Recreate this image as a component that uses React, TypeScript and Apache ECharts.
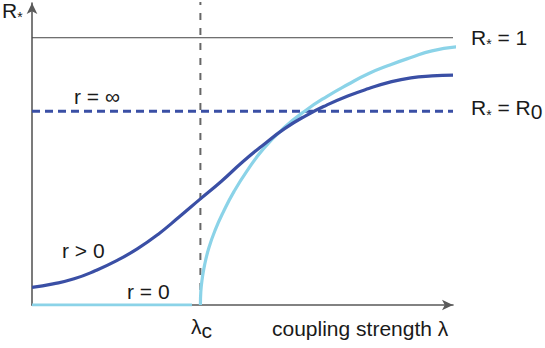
import React, { useEffect, useRef } from "react";
import * as echarts from "echarts";

const lambdaC = 4;
const rStarOne = 1;
const rZero = 0.725;
const xMax = 10;
const yMax = 1.13;

// r > 0 (dark blue)
const rPositive: [number, number][] = [
  [0, 0.066], [0.5, 0.079], [1, 0.098], [1.5, 0.128], [2, 0.165], [2.5, 0.21],
  [3, 0.265], [3.5, 0.33], [4, 0.397], [4.5, 0.463], [5, 0.535], [5.5, 0.6],
  [6, 0.66], [6.5, 0.708], [7, 0.748], [7.5, 0.782], [8, 0.81], [8.5, 0.834],
  [9, 0.85], [9.5, 0.857], [10, 0.86],
];

// r = 0 (light blue): flat part, then rise after lambda_c
const rNullFlat: [number, number][] = [
  [0, 0], [3.8, 0],
];
const rNullRise: [number, number][] = [
  [4, 0], [4.01, 0.05], [4.04, 0.095], [4.1, 0.15], [4.2, 0.213], [4.35, 0.28],
  [4.55, 0.35], [4.8, 0.425], [5.1, 0.5], [5.5, 0.585], [6, 0.665], [6.5, 0.728],
  [7, 0.78], [7.5, 0.825], [8, 0.866], [8.5, 0.898], [9, 0.926], [9.5, 0.951],
  [10.1, 0.966],
];

const darkBlue = "#3a4fa5";
const lightBlue = "#8bd3e8";
const axisGray = "#5a5a5a";
const font = "Liberation Sans, Arial, Helvetica, sans-serif";
const textColor = "#1a1a1a";
const fs = 21;

export default function App() {
  const ref = useRef<HTMLDivElement>(null);
  useEffect(() => {
    const chart = echarts.init(ref.current!, undefined, { renderer: "svg" });
    const base = {
      fontFamily: font,
      fontSize: fs,
      lineHeight: fs,
      fill: textColor,
    };
    const rich = {
      n: { fontFamily: font, fontSize: fs, lineHeight: fs, color: textColor },
      s: { fontFamily: font, fontSize: 14, lineHeight: fs, padding: [14, 0, 0, 0], color: textColor },
      sub: { fontFamily: font, fontSize: fs, lineHeight: fs, padding: [8, 0, 0, 0], color: textColor },
    };
    const label = (left: number, top: number, text: string) => ({
      type: "text",
      left,
      top,
      style: { text, rich, ...base },
    });
    chart.setOption({
      animation: false,
      grid: { left: 32, right: 92, top: 3, bottom: 43 },
      xAxis: {
        type: "value",
        min: 0,
        max: xMax,
        axisLine: {
          show: true,
          onZero: false,
          symbol: ["none", "arrow"],
          symbolSize: [8, 11],
          lineStyle: { color: axisGray, width: 1.6 },
        },
        axisTick: { show: false },
        axisLabel: { show: false },
        splitLine: { show: false },
      },
      yAxis: {
        type: "value",
        min: 0,
        max: yMax,
        axisLine: {
          show: true,
          onZero: false,
          symbol: ["none", "arrow"],
          symbolSize: [8, 11],
          lineStyle: { color: axisGray, width: 1.6 },
        },
        axisTick: { show: false },
        axisLabel: { show: false },
        splitLine: { show: false },
      },
      series: [
        {
          type: "line",
          data: [[0, rStarOne], [xMax, rStarOne]],
          symbol: "none",
          lineStyle: { color: "#444", width: 1 },
          z: 1,
        },
        {
          type: "line",
          data: [[lambdaC, 0], [lambdaC, yMax + 0.02]],
          symbol: "none",
          lineStyle: { color: "#666", width: 2, type: [7, 8] },
          z: 1,
        },
        {
          type: "line",
          data: [[0, rZero], [xMax, rZero]],
          symbol: "none",
          lineStyle: { color: darkBlue, width: 3, type: [8, 5] },
          z: 2,
        },
        {
          type: "line",
          data: rNullFlat,
          symbol: "none",
          lineStyle: { color: lightBlue, width: 3.2, cap: "butt" },
          z: 3,
        },
        {
          type: "line",
          data: rNullRise,
          symbol: "none",
          smooth: 0.5,
          lineStyle: { color: lightBlue, width: 3.2 },
          z: 3,
        },
        {
          type: "line",
          data: rPositive,
          symbol: "none",
          smooth: 0.5,
          lineStyle: { color: darkBlue, width: 3.2 },
          z: 4,
        },
      ],
      graphic: [
        label(2, -4, "{n|R}{s|*}"),
        label(471, 23, "{n|R}{s|*}{n| = 1}"),
        label(471, 93, "{n|R}{s|*}{n| = R}{sub|0}"),
        label(74, 86, "r = ∞"),
        label(62, 240, "r > 0"),
        label(127, 281, "r = 0"),
        label(191, 312, "{n|λ}{sub|c}"),
        label(272, 318, "coupling strength λ"),
      ],
    });
    return () => chart.dispose();
  }, []);
  return <div ref={ref} style={{ width: 545, height: 348, position: "absolute", left: 0, top: 0 }} />;
}
